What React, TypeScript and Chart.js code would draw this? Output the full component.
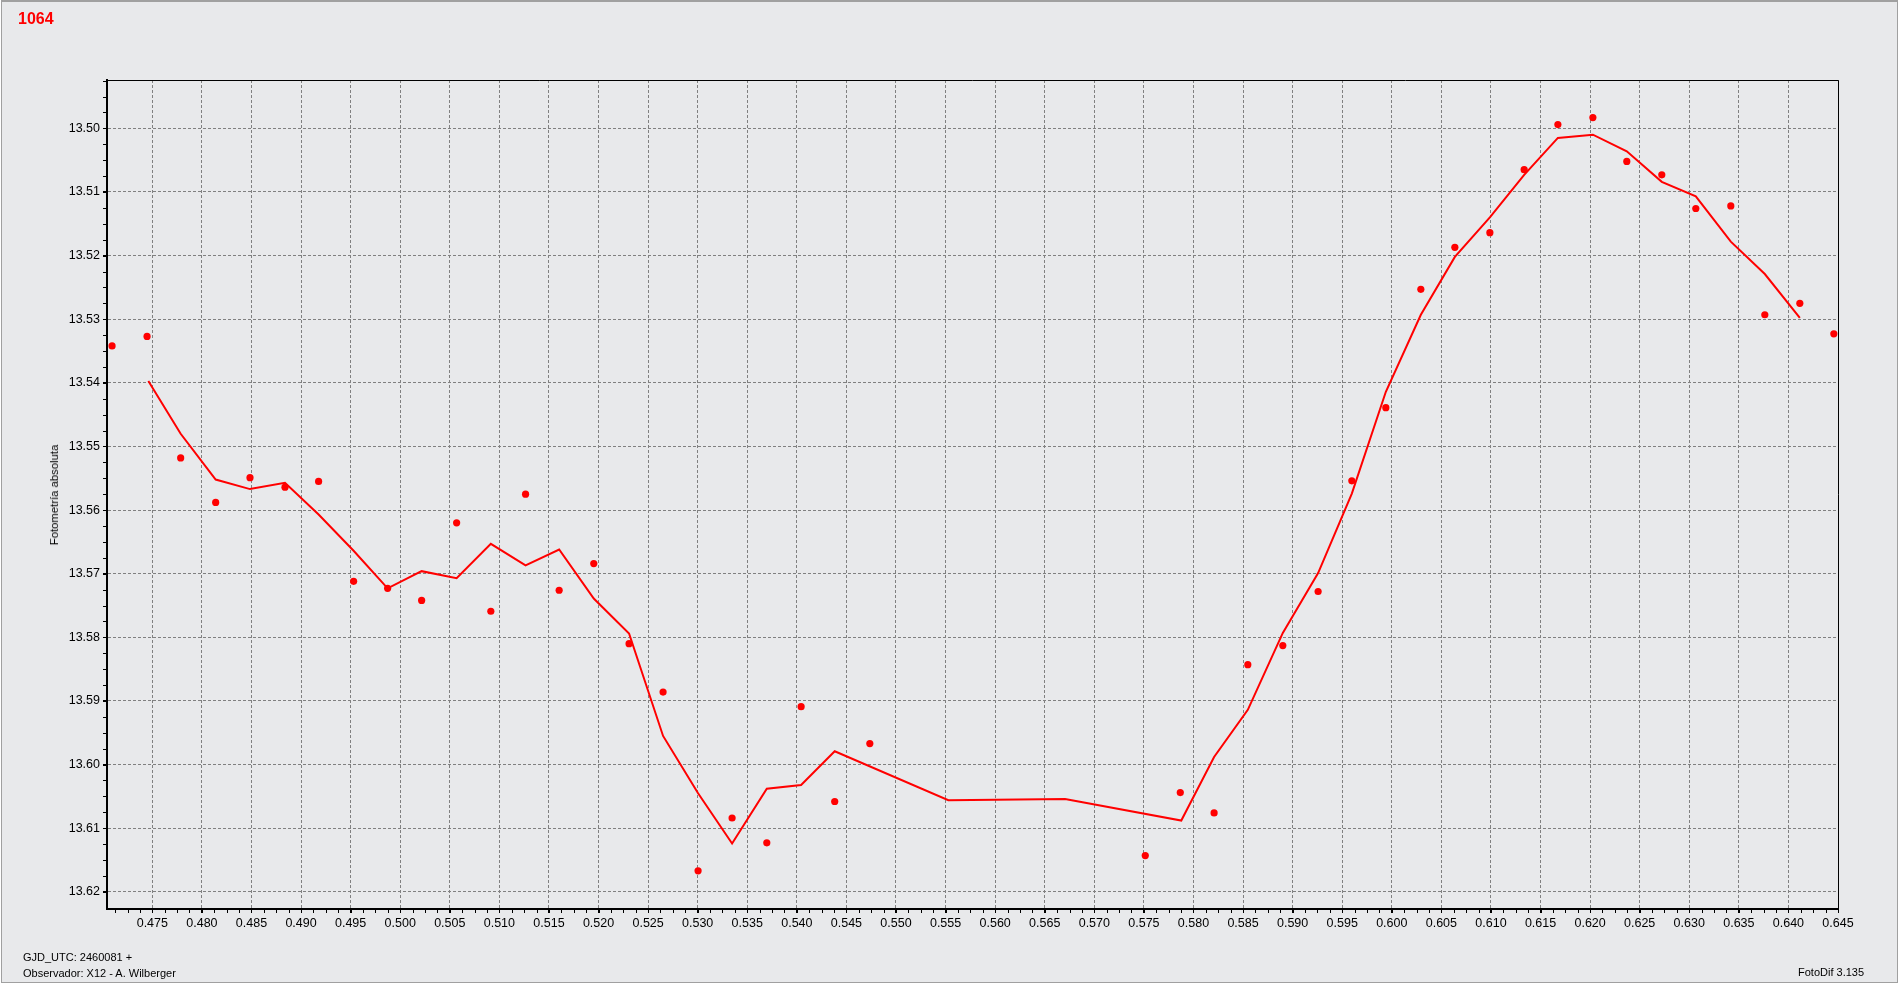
import React, { useEffect, useRef } from "react";
import { Chart, registerables } from "chart.js";

Chart.register(...registerables);

// ---- data ----
const pointPhase = [
  0.47094, 0.47447, 0.47786, 0.48139, 0.48485, 0.48838, 0.49177, 0.4953, 0.49873, 0.50216,
  0.50569, 0.50914, 0.51264, 0.51603, 0.51952, 0.52308, 0.52651, 0.53004, 0.53347, 0.53697,
  0.54043, 0.54382, 0.54736, 0.57514, 0.57867, 0.58208, 0.58548, 0.58901, 0.59257, 0.59597,
  0.5994, 0.60293, 0.60636, 0.60989, 0.61335, 0.61675, 0.62028, 0.6237, 0.62723, 0.63066,
  0.63419, 0.63762, 0.64115, 0.64458,
];
const pointMag = [
  13.5342, 13.5327, 13.5518, 13.5588, 13.5549, 13.5564, 13.5555, 13.5712, 13.5723, 13.5742,
  13.562, 13.5759, 13.5575, 13.5726, 13.5684, 13.581, 13.5886, 13.6167, 13.6084, 13.6123,
  13.5909, 13.6058, 13.5967, 13.6143, 13.6044, 13.6076, 13.5843, 13.5813, 13.5728, 13.5554,
  13.5439, 13.5253, 13.5187, 13.5164, 13.5065, 13.4994, 13.4983, 13.5052, 13.5073, 13.5126,
  13.5122, 13.5293, 13.5275, 13.5323,
];
const curvePhase = [
  0.4746, 0.47786, 0.48139, 0.48485, 0.48838, 0.49177, 0.4953, 0.49873, 0.50216, 0.50569,
  0.50914, 0.51264, 0.51603, 0.51952, 0.52308, 0.52651, 0.53004, 0.53347, 0.53697, 0.54043,
  0.54382, 0.55528, 0.56705, 0.57877, 0.58208, 0.58548, 0.58901, 0.59257, 0.59597, 0.5994,
  0.60293, 0.60636, 0.60989, 0.61335, 0.61675, 0.62028, 0.6237, 0.62723, 0.63066, 0.63419,
  0.63762, 0.64115,
];
const curveMag = [
  13.5397, 13.548, 13.5552, 13.5567, 13.5557, 13.5607, 13.5664, 13.5723, 13.5696, 13.5707,
  13.5653, 13.5687, 13.5662, 13.5739, 13.5794, 13.5955, 13.6045, 13.6124, 13.6038, 13.6032,
  13.5979, 13.6056, 13.6054, 13.6088, 13.5988, 13.5914, 13.5793, 13.5699, 13.5574, 13.5414,
  13.5293, 13.5202, 13.514, 13.5073, 13.5015, 13.501, 13.5036, 13.5084, 13.5107, 13.5178,
  13.5229, 13.5298,
];
const xTickValues = [
  0.475, 0.48, 0.485, 0.49, 0.495, 0.5, 0.505, 0.51, 0.515, 0.52, 0.525, 0.53, 0.535, 0.54,
  0.545, 0.55, 0.555, 0.56, 0.565, 0.57, 0.575, 0.58, 0.585, 0.59, 0.595, 0.6, 0.605, 0.61,
  0.615, 0.62, 0.625, 0.63, 0.635, 0.64, 0.645,
];
const yTickValues = [
  13.5, 13.51, 13.52, 13.53, 13.54, 13.55, 13.56, 13.57, 13.58, 13.59, 13.6, 13.61, 13.62,
];

const titleText = "1064";
const yAxisTitle = "Fotometría absoluta";
const footerLine1 = "GJD_UTC: 2460081 +";
const footerLine2 = "Observador: X12 - A. Wilberger";
const footerRight = "FotoDif 3.135";

const FONT = '"Liberation Sans", Arial, sans-serif';
const RED = "#ff0000";

const framePlugin = {
  id: "frameAndMinor",
  afterDraw(chart: any) {
    const { ctx, chartArea } = chart;
    const xs = chart.scales.x;
    const ys = chart.scales.y;
    ctx.save();
    ctx.strokeStyle = "#000";
    ctx.lineWidth = 1;
    ctx.beginPath();
    ctx.moveTo(chartArea.left, chartArea.top + 0.5);
    ctx.lineTo(chartArea.right + 0.5, chartArea.top + 0.5);
    ctx.lineTo(chartArea.right + 0.5, chartArea.bottom);
    ctx.stroke();
    // minor ticks (4 subdivisions per major step)
    const xStep = (xTickValues[1] - xTickValues[0]) / 4;
    const yStep = (yTickValues[1] - yTickValues[0]) / 4;
    ctx.beginPath();
    for (let v = xTickValues[0] - 4 * xStep; v <= xs.max + 1e-9; v += xStep) {
      const px = Math.round(xs.getPixelForValue(v)) + 0.5;
      if (px < chartArea.left + 1 || px > chartArea.right) continue;
      ctx.moveTo(px, chartArea.bottom);
      ctx.lineTo(px, chartArea.bottom + 4);
    }
    for (let v = yTickValues[0] - 4 * yStep; v <= ys.max + 1e-9; v += yStep) {
      const py = Math.round(ys.getPixelForValue(v)) + 0.5;
      if (py < chartArea.top || py > chartArea.bottom - 1) continue;
      ctx.moveTo(chartArea.left, py);
      ctx.lineTo(chartArea.left - 4, py);
    }
    ctx.stroke();
    ctx.restore();
  },
};

export default function App() {
  const canvasRef = useRef<HTMLCanvasElement | null>(null);

  useEffect(() => {
    document.body.style.margin = "0";
    const canvas = canvasRef.current;
    if (!canvas) return;
    const chart = new Chart(canvas, {
      type: "scatter",
      data: {
        datasets: [
          {
            label: "obs",
            data: pointPhase.map((x, i) => ({ x, y: pointMag[i] })),
            showLine: false,
            pointRadius: 3.6,
            pointHoverRadius: 3.6,
            pointBackgroundColor: RED,
            pointBorderWidth: 0,
            borderColor: RED,
          },
          {
            label: "fit",
            data: curvePhase.map((x, i) => ({ x, y: curveMag[i] })),
            showLine: true,
            pointRadius: 0,
            borderColor: RED,
            borderWidth: 2,
            tension: 0,
            fill: false,
          },
        ],
      },
      options: {
        animation: false,
        responsive: false,
        events: [],
        layout: { padding: { left: 0, top: 80, right: 62, bottom: 0 } },
        plugins: {
          legend: { display: false },
          tooltip: { enabled: false },
          title: { display: false },
        },
        scales: {
          x: {
            type: "linear",
            min: 0.47043,
            max: 0.645,
            afterFit(scale: any) {
              scale.height = 75;
            },
            afterBuildTicks(scale: any) {
              scale.ticks = xTickValues.map((v) => ({ value: v }));
            },
            ticks: {
              autoSkip: false,
              maxRotation: 0,
              minRotation: 0,
              padding: 3,
              color: "#000",
              font: { family: FONT, size: 12.5 },
              callback: (v: any) => Number(v).toFixed(3),
            },
            grid: {
              color: "#808080",
              lineWidth: 1,
              tickLength: 4,
              tickColor: "#000",
              drawTicks: true,
            },
            border: { color: "#000", width: 2, dash: [3, 2] as any },
          } as any,
          y: {
            type: "linear",
            reverse: true,
            min: 13.4924,
            max: 13.6227,
            afterFit(scale: any) {
              scale.width = 107;
            },
            afterBuildTicks(scale: any) {
              scale.ticks = yTickValues.map((v) => ({ value: v }));
            },
            ticks: {
              autoSkip: false,
              padding: 3,
              color: "#000",
              font: { family: FONT, size: 12.5 },
              callback: (v: any) => Number(v).toFixed(2),
            },
            grid: {
              color: "#808080",
              lineWidth: 1,
              tickLength: 4,
              tickColor: "#000",
              drawTicks: true,
            },
            border: { color: "#000", width: 2, dash: [3, 2] as any },
          } as any,
        },
      } as any,
      plugins: [
        framePlugin,
        {
          id: "dashGrid",
          beforeDraw(chart: any) {
            for (const id of ["x", "y"]) {
              const s = chart.scales[id];
              s.options.grid.borderDash = [3, 2];
            }
          },
        },
      ],
    });
    return () => chart.destroy();
  }, []);

  return (
    <div
      style={{
        position: "absolute",
        left: 0,
        top: 0,
        width: 1900,
        height: 984,
        background: "#ffffff",
        overflow: "hidden",
      }}
    >
      <div
        style={{
          position: "absolute",
          left: 1,
          top: 0,
          width: 1897,
          height: 983,
          boxSizing: "border-box",
          border: "1px solid #a0a0a0",
          borderTop: "2px solid #a0a0a0",
          background: "#e8e9eb",
        }}
      />
      <canvas
        ref={canvasRef}
        width={1900}
        height={984}
        style={{ position: "absolute", left: 0, top: 0, width: 1900, height: 984 }}
      />
      <div
        style={{
          position: "absolute",
          left: 18,
          top: 10,
          lineHeight: "18px",
          fontFamily: FONT,
          fontWeight: "bold",
          fontSize: 16,
          color: RED,
        }}
      >
        {titleText}
      </div>
      <div
        style={{
          position: "absolute",
          left: 54,
          top: 494.5,
          transform: "translate(-50%, -50%) rotate(-90deg)",
          whiteSpace: "nowrap",
          fontFamily: FONT,
          fontSize: 11.3,
          lineHeight: "14px",
          color: "#000",
        }}
      >
        {yAxisTitle}
      </div>
      <div
        style={{
          position: "absolute",
          left: 23,
          top: 950,
          lineHeight: "14px",
          fontFamily: FONT,
          fontSize: 11,
          color: "#000",
          whiteSpace: "nowrap",
        }}
      >
        {footerLine1}
      </div>
      <div
        style={{
          position: "absolute",
          left: 23,
          top: 966,
          lineHeight: "14px",
          fontFamily: FONT,
          fontSize: 11,
          color: "#000",
          whiteSpace: "nowrap",
        }}
      >
        {footerLine2}
      </div>
      <div
        style={{
          position: "absolute",
          left: 1798,
          top: 965,
          lineHeight: "14px",
          fontFamily: FONT,
          fontSize: 11,
          color: "#000",
          whiteSpace: "nowrap",
        }}
      >
        {footerRight}
      </div>
    </div>
  );
}
